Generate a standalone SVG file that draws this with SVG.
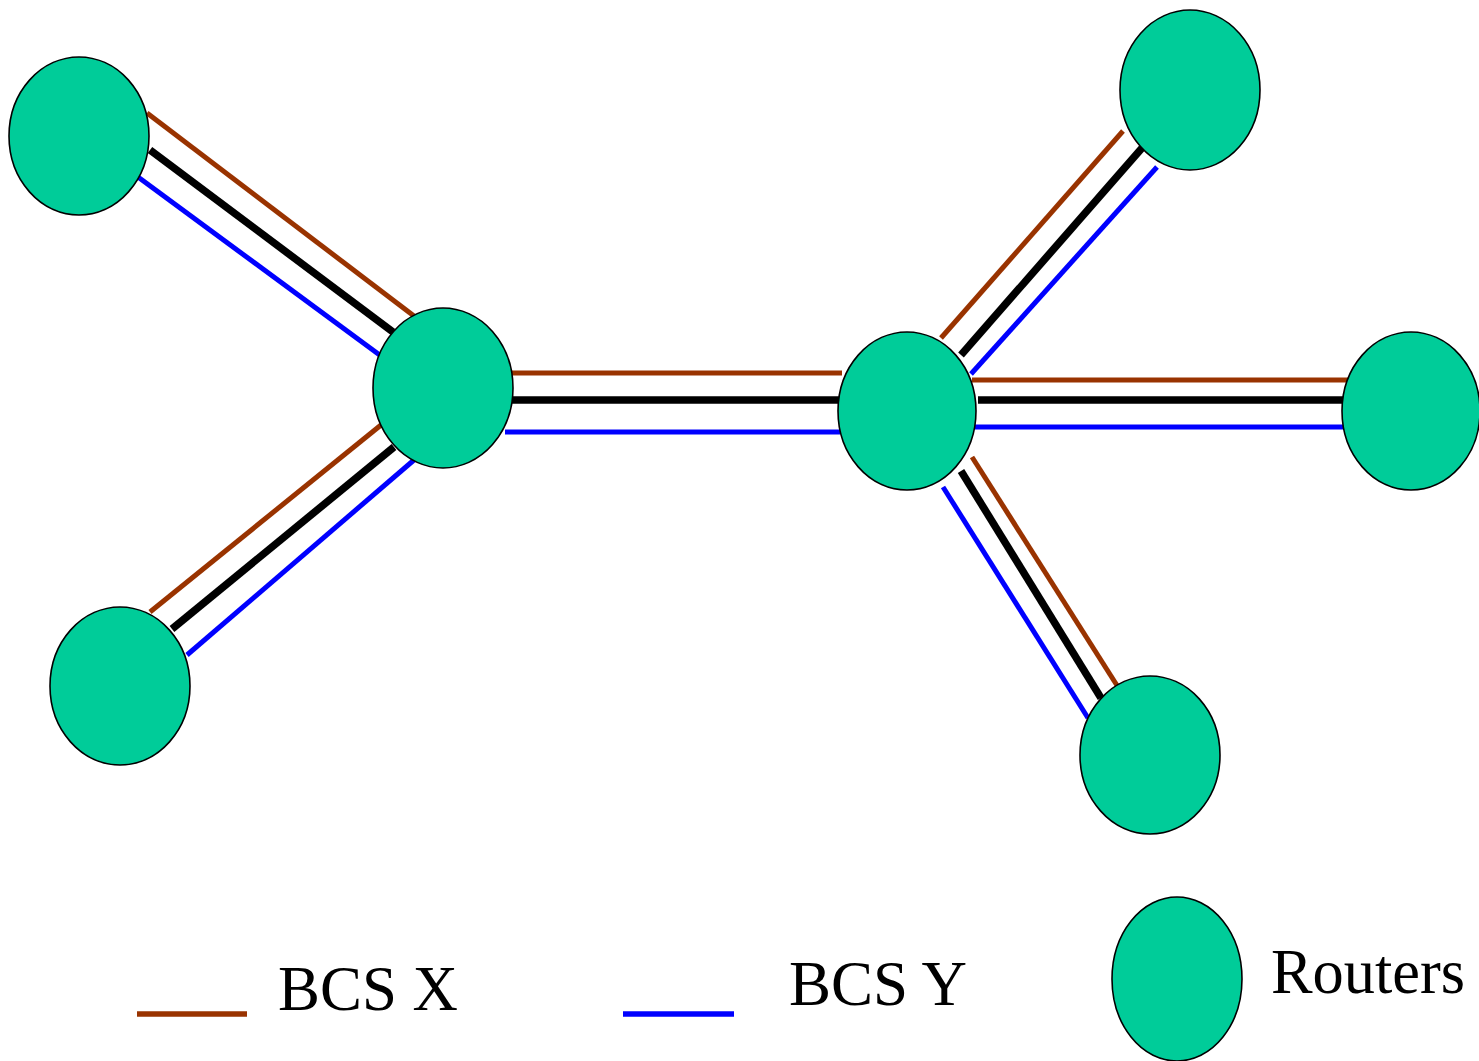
<svg xmlns="http://www.w3.org/2000/svg" width="1479" height="1061" viewBox="0 0 1479 1061">
<style>
.node{fill:#00CC99;stroke:#000;stroke-width:1.6}
.x{stroke:#993300;stroke-width:5;fill:none}
.k{stroke:#000;stroke-width:7.5;fill:none}
.y{stroke:#0000FF;stroke-width:5;fill:none}
.lbl{font-family:"Liberation Serif","Times New Roman",serif;font-size:64px;fill:#000}
</style>
<rect width="1479" height="1061" fill="#fff"/>
<g id="connectors">
<line class="x" x1="147" y1="113" x2="414" y2="316"/>
<line class="k" x1="150" y1="150" x2="393" y2="332"/>
<line class="y" x1="138" y1="177" x2="381" y2="356"/>
<line class="x" x1="150" y1="612" x2="381" y2="425"/>
<line class="k" x1="172" y1="629" x2="394" y2="447"/>
<line class="y" x1="187" y1="655" x2="414" y2="460"/>
<line class="x" x1="512" y1="373" x2="842" y2="373"/>
<line class="k" x1="512" y1="400" x2="842" y2="400"/>
<line class="y" x1="505" y1="432" x2="840" y2="432"/>
<line class="x" x1="941" y1="338" x2="1123" y2="131"/>
<line class="k" x1="961" y1="355" x2="1142" y2="148"/>
<line class="y" x1="971" y1="374" x2="1157" y2="167"/>
<line class="x" x1="972" y1="380" x2="1349" y2="380"/>
<line class="k" x1="978" y1="400" x2="1345" y2="400"/>
<line class="y" x1="975" y1="427" x2="1347" y2="427"/>
<line class="x" x1="972" y1="457" x2="1118" y2="687"/>
<line class="k" x1="961" y1="471" x2="1101" y2="698"/>
<line class="y" x1="943" y1="487" x2="1088" y2="718"/>
</g>
<g id="n1"><ellipse class="node" cx="79" cy="136" rx="70" ry="79"/></g>
<g id="n2"><ellipse class="node" cx="443" cy="388" rx="70" ry="80"/></g>
<g id="n3"><ellipse class="node" cx="907" cy="411" rx="69" ry="79"/></g>
<g id="n4"><ellipse class="node" cx="1190" cy="90" rx="70" ry="80"/></g>
<g id="n5"><ellipse class="node" cx="1411" cy="411" rx="69" ry="79"/></g>
<g id="n6"><ellipse class="node" cx="1150" cy="755" rx="70" ry="79"/></g>
<g id="n7"><ellipse class="node" cx="120" cy="686" rx="70" ry="79"/></g>
<g id="legend">
<line class="x" x1="137" y1="1014" x2="247" y2="1014" style="stroke-width:5.5"/>
<text class="lbl" x="278" y="1010" textLength="180" lengthAdjust="spacingAndGlyphs">BCS X</text>
<line class="y" x1="623" y1="1014" x2="734" y2="1014" style="stroke-width:5.5"/>
<text class="lbl" x="789" y="1005" textLength="178" lengthAdjust="spacingAndGlyphs">BCS Y</text>
<ellipse class="node" cx="1177" cy="979" rx="65" ry="82"/>
<text class="lbl" x="1271" y="993" textLength="194" lengthAdjust="spacingAndGlyphs">Routers</text>
</g>
</svg>
